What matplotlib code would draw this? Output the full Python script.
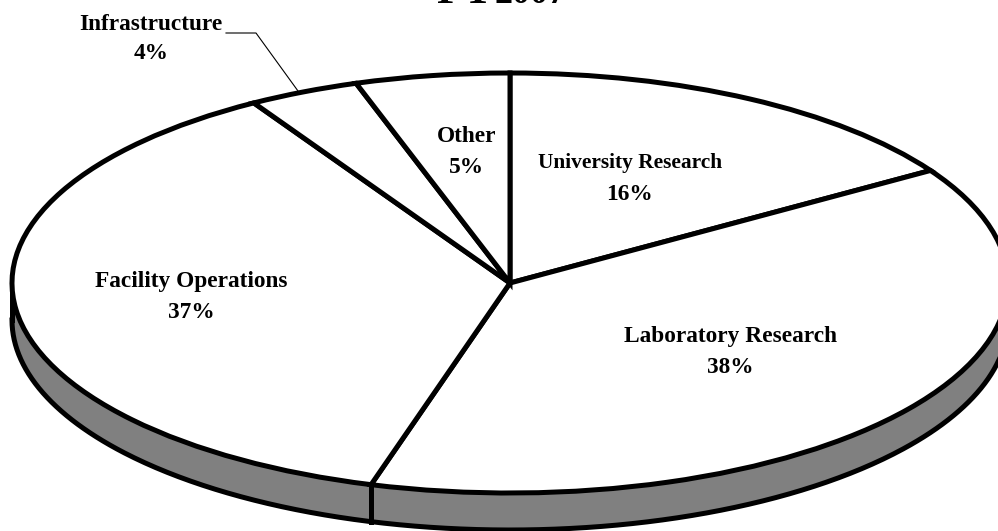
import numpy as np
import matplotlib
matplotlib.use("Agg")
import matplotlib.pyplot as plt

W, H = 998, 531

# slice shares, the printed labels are rounded
categories = ["University Research", "Laboratory Research", "Facility Operations", "Infrastructure", "Other"]
shares = [16, 38.5, 36.9, 3.6, 5]
percent_labels = ["16%", "38%", "37%", "4%", "5%"]

CX, CY = 510, 283
RX, RY = 498, 210
DEPTH = 37 / RY
LW = 3.6


def px(x, y):
    return x / W, 1 - y / H


plt.rcParams["font.family"] = ["Liberation Serif", "DejaVu Serif"]
plt.rcParams["font.weight"] = "bold"

fig = plt.figure(figsize=(W / 100, H / 100), dpi=100)
ax = fig.add_axes([0, 0, 1, 1])

ax.pie(shares, startangle=90, counterclock=False, radius=1,
       colors=["white"] * len(shares),
       wedgeprops={"edgecolor": "black", "linewidth": LW, "zorder": 3})

# side wall of the disc
t = np.linspace(np.pi, 2 * np.pi, 400)
ax.fill_between(np.cos(t), np.sin(t), np.sin(t) - DEPTH, color="#808080", lw=0, zorder=1)
ax.plot(np.cos(t), np.sin(t) - DEPTH, color="black", lw=LW, zorder=2)
ax.plot([-1, -1], [0, -DEPTH], color="black", lw=LW, zorder=2)
ax.plot([1, 1], [0, -DEPTH], color="black", lw=LW, zorder=2)

# divider on the wall where laboratory meets facility
edge = np.radians(90 - 3.6 * (shares[0] + shares[1]))
ax.plot([np.cos(edge)] * 2, [np.sin(edge), np.sin(edge) - DEPTH], color="black", lw=LW, zorder=2)

ax.set_aspect("auto")
ax.set_xlim(-CX / RX, (W - CX) / RX)
ax.set_ylim(-(H - CY) / RY, CY / RY)
ax.axis("off")

# labels: centre x, baseline of the name, baseline of the percent
label_pos = [(630, 168, 200), (730, 342, 373), (191, 287, 318), (151, 30, 59), (467, 142, 173)]
for name, pct, (x, y1, y2) in zip(categories, percent_labels, label_pos):
    size = 15.4 if name == "University Research" else 16.8
    fig.text(*px(x, y1), name, ha="center", va="baseline", fontsize=size, color="black")
    fig.text(*px(x, y2), pct, ha="center", va="baseline", fontsize=16.8, color="black")

# leader for Infrastructure
fig.add_artist(plt.Line2D([226 / W, 256 / W, 298 / W],
                          [1 - 33 / H, 1 - 33 / H, 1 - 91 / H],
                          color="black", lw=0.8))

# title is cut off by the top edge
fig.text(*px(436, 3), "FY", ha="left", va="baseline", fontsize=31)
fig.text(*px(495, 3), "2007", ha="left", va="baseline", fontsize=26)

fig.savefig("out.png", dpi=100)
